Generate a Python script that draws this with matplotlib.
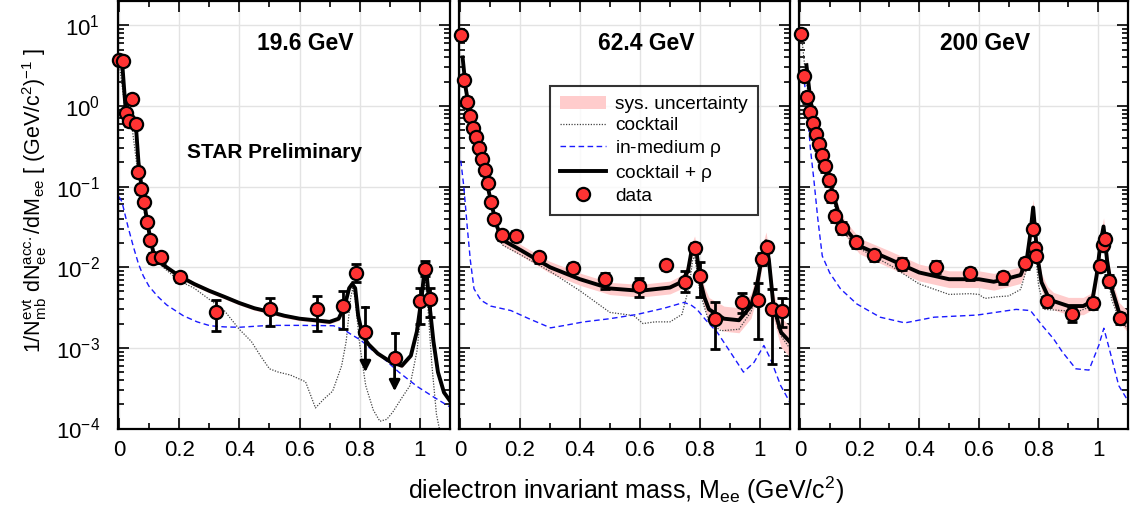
import numpy as np
import matplotlib
matplotlib.use("Agg")
import matplotlib.pyplot as plt
from matplotlib.ticker import MultipleLocator, LogLocator, FixedLocator, NullFormatter
from matplotlib.lines import Line2D
from matplotlib.patches import Patch

plt.rcParams['font.family'] = ['Liberation Sans', 'DejaVu Sans']
plt.rcParams['mathtext.default'] = 'regular'
plt.rcParams['axes.unicode_minus'] = False

titles = ['19.6 GeV', '62.4 GeV', '200 GeV']

# ---- 19.6 GeV ----
d1_x = [0.0, 0.012, 0.022, 0.033, 0.044, 0.056, 0.063, 0.073, 0.082, 0.094, 0.103, 0.114, 0.141,
        0.203, 0.324, 0.501, 0.659, 0.746, 0.788, 1.0, 1.016, 1.032]
d1_y = [3.7, 3.6, 0.81, 0.65, 1.22, 0.6, 0.152, 0.092, 0.065, 0.036, 0.022, 0.013, 0.0132,
        0.0075, 0.00275, 0.003, 0.003, 0.0033, 0.0084, 0.0038, 0.0096, 0.004]
d1_lo = [3.3, 3.2, 0.72, 0.57, 1.08, 0.53, 0.135, 0.082, 0.058, 0.032, 0.0195, 0.0112, 0.0114,
         0.0066, 0.0016, 0.00185, 0.0016, 0.0017, 0.0065, 0.002, 0.0078, 0.0024]
d1_hi = [4.1, 4.0, 0.9, 0.73, 1.36, 0.67, 0.17, 0.103, 0.073, 0.04, 0.0245, 0.0148, 0.015,
         0.0085, 0.0039, 0.0041, 0.0044, 0.005, 0.011, 0.0056, 0.0119, 0.0056]
ul1_x = [0.819, 0.916]
ul1_y = [0.00158, 0.00075]
ul1_top = [0.0032, 0.00154]
ul1_tip = [0.0005, 0.00029]

tot1_x = [0.0, 0.012, 0.022, 0.035, 0.045, 0.056, 0.065, 0.075, 0.085, 0.095, 0.105, 0.115, 0.13,
          0.15, 0.2, 0.25, 0.3, 0.35, 0.4, 0.45, 0.5, 0.55, 0.6, 0.65, 0.7, 0.73, 0.75, 0.765,
          0.775, 0.785, 0.795, 0.81, 0.83, 0.86, 0.9, 0.94, 0.97, 0.99, 1.005, 1.015, 1.02, 1.03,
          1.045, 1.06, 1.08, 1.1]
tot1_y = [3.7, 3.0, 0.95, 0.8, 0.75, 0.6, 0.2, 0.1, 0.06, 0.035, 0.022, 0.015, 0.012, 0.0105,
          0.0078, 0.0062, 0.0051, 0.0043, 0.0036, 0.0031, 0.0028, 0.0025, 0.0023, 0.0022, 0.0021,
          0.0023, 0.0033, 0.0055, 0.0062, 0.0055, 0.0025, 0.0014, 0.0011, 0.00085, 0.00068,
          0.0006, 0.0008, 0.0016, 0.004, 0.009, 0.0105, 0.004, 0.0012, 0.0005, 0.00028, 0.00022]
sys1 = [0.06] * 46

cock1_x = [0.0, 0.02, 0.04, 0.06, 0.08, 0.1, 0.12, 0.14, 0.2, 0.25, 0.3, 0.35, 0.4, 0.44, 0.47,
           0.5, 0.53, 0.57, 0.62, 0.653, 0.68, 0.71, 0.74, 0.755, 0.77, 0.777, 0.785, 0.8, 0.82,
           0.845, 0.867, 0.89, 0.91, 0.94, 0.967, 0.99, 1.005, 1.017, 1.027, 1.04, 1.055, 1.067]
cock1_y = [3.6, 0.95, 0.7, 0.18, 0.06, 0.022, 0.013, 0.0105, 0.0068, 0.0055, 0.004, 0.0029,
           0.0017, 0.0012, 0.0008, 0.00055, 0.0005, 0.00046, 0.00038, 0.00018, 0.00023, 0.00029,
           0.0006, 0.0012, 0.0042, 0.0055, 0.004, 0.0011, 0.00034, 0.00017, 0.000123, 0.00013,
           0.00016, 0.00024, 0.00034, 0.0009, 0.003, 0.0075, 0.003, 0.0006, 0.00015, 0.00009]

rho1_x = [0.0, 0.01, 0.03, 0.048, 0.065, 0.081, 0.1, 0.13, 0.159, 0.214, 0.26, 0.303, 0.35, 0.4,
          0.5, 0.6, 0.713, 0.746, 0.77, 0.803, 0.84, 0.881, 0.93, 0.992, 1.05, 1.1]
rho1_y = [0.075, 0.065, 0.032, 0.018, 0.011, 0.0078, 0.0058, 0.0043, 0.0034, 0.0025, 0.0021,
          0.00188, 0.00182, 0.0018, 0.0019, 0.0019, 0.00188, 0.0017, 0.00148, 0.00125, 0.00095,
          0.00073, 0.0005, 0.00033, 0.00024, 0.000185]

# ---- 62.4 GeV ----
d2_x = [0.005, 0.013, 0.025, 0.033, 0.042, 0.052, 0.062, 0.073, 0.082, 0.095, 0.103, 0.113, 0.141,
        0.188, 0.263, 0.376, 0.483, 0.597, 0.687, 0.749, 0.783, 0.799, 0.85, 0.941, 0.995, 1.008,
        1.025, 1.039, 1.075]
d2_y = [7.5, 2.1, 1.13, 0.75, 0.53, 0.41, 0.305, 0.22, 0.16, 0.111, 0.065, 0.04, 0.0249, 0.0244,
        0.0132, 0.0099, 0.0072, 0.0058, 0.0106, 0.0066, 0.0174, 0.0078, 0.0023, 0.00366, 0.0039,
        0.0128, 0.0177, 0.003, 0.00288]
d2_lo = [6.6, 1.85, 1.0, 0.66, 0.47, 0.36, 0.27, 0.195, 0.141, 0.098, 0.057, 0.035, 0.0215, 0.021,
         0.0113, 0.0085, 0.0054, 0.0043, 0.0093, 0.0049, 0.015, 0.0043, 0.00096, 0.0027, 0.00128,
         0.0108, 0.0155, 0.00063, 0.00181]
d2_hi = [8.5, 2.4, 1.28, 0.85, 0.6, 0.46, 0.345, 0.25, 0.18, 0.125, 0.074, 0.046, 0.0285, 0.028,
         0.0152, 0.0113, 0.0085, 0.0074, 0.012, 0.009, 0.02, 0.0115, 0.0037, 0.0048, 0.0064,
         0.0152, 0.02, 0.0053, 0.0041]

tot2_x = [0.009, 0.02, 0.04, 0.06, 0.08, 0.1, 0.12, 0.14, 0.2, 0.3, 0.4, 0.5, 0.6, 0.7, 0.74,
          0.76, 0.772, 0.782, 0.79, 0.8, 0.815, 0.83, 0.88, 0.93, 0.97, 0.99, 1.005, 1.02, 1.03,
          1.045, 1.07, 1.1]
tot2_y = [4.0, 1.6, 0.6, 0.32, 0.16, 0.075, 0.035, 0.022, 0.0165, 0.0100, 0.0071, 0.00545,
          0.0051, 0.0056, 0.0066, 0.009, 0.016, 0.020, 0.014, 0.007, 0.0042, 0.003, 0.0023,
          0.0022, 0.0033, 0.006, 0.0125, 0.021, 0.012, 0.0033, 0.00156, 0.00118]
sys2 = [0.12, 0.12, 0.12, 0.13, 0.13, 0.14, 0.15, 0.16, 0.17, 0.18, 0.19, 0.19, 0.2, 0.2, 0.21,
        0.22, 0.22, 0.22, 0.25, 0.3, 0.35, 0.4, 0.43, 0.43, 0.42, 0.4, 0.35, 0.3, 0.35, 0.45,
        0.53, 0.55]

cock2_x = [0.009, 0.02, 0.04, 0.06, 0.08, 0.1, 0.12, 0.14, 0.2, 0.3, 0.4, 0.5, 0.55, 0.58, 0.61,
           0.65, 0.7, 0.74, 0.765, 0.775, 0.782, 0.79, 0.8, 0.83, 0.87, 0.93, 0.97, 0.99, 1.005,
           1.02, 1.03, 1.045, 1.07, 1.1]
cock2_y = [4.0, 1.6, 0.6, 0.32, 0.16, 0.072, 0.032, 0.019, 0.0144, 0.0089, 0.0051, 0.00275,
           0.0026, 0.0025, 0.002, 0.0021, 0.0021, 0.0026, 0.006, 0.012, 0.014, 0.009, 0.0048,
           0.0021, 0.00163, 0.0017, 0.0028, 0.005, 0.011, 0.017, 0.01, 0.0028, 0.0014, 0.00098]

rho2_x = [0.003, 0.013, 0.025, 0.035, 0.047, 0.07, 0.102, 0.17, 0.23, 0.302, 0.35, 0.413, 0.5,
          0.591, 0.68, 0.747, 0.77, 0.79, 0.82, 0.858, 0.9, 0.945, 0.98, 1.013, 1.035, 1.069, 1.1]
rho2_y = [0.21, 0.1, 0.03, 0.012, 0.0054, 0.0039, 0.0033, 0.0029, 0.0023, 0.00177, 0.0019,
          0.0021, 0.0023, 0.0026, 0.0031, 0.00366, 0.0034, 0.003, 0.0022, 0.00155, 0.0009,
          0.0005, 0.00066, 0.00107, 0.00073, 0.00034, 0.00021]

# ---- 200 GeV ----
d3_x = [0.005, 0.013, 0.025, 0.033, 0.043, 0.055, 0.065, 0.073, 0.083, 0.096, 0.105, 0.117, 0.141,
        0.187, 0.247, 0.341, 0.455, 0.57, 0.681, 0.756, 0.783, 0.788, 0.793, 0.828, 0.912, 0.981,
        1.006, 1.015, 1.023, 1.035, 1.072]
d3_y = [7.9, 2.35, 1.28, 0.84, 0.61, 0.45, 0.336, 0.248, 0.178, 0.122, 0.077, 0.043, 0.031,
        0.0207, 0.0142, 0.0111, 0.0101, 0.0084, 0.0075, 0.0112, 0.0295, 0.0175, 0.0138, 0.0038,
        0.0026, 0.0036, 0.0104, 0.0188, 0.0226, 0.0068, 0.00234]
d3_lo = [6.9, 2.05, 1.1, 0.72, 0.52, 0.385, 0.285, 0.21, 0.15, 0.103, 0.065, 0.036, 0.026, 0.0174,
         0.0119, 0.0093, 0.0084, 0.007, 0.0062, 0.0095, 0.0255, 0.015, 0.0118, 0.0032, 0.0021,
         0.003, 0.0089, 0.0162, 0.0196, 0.0057, 0.00195]
d3_hi = [9.0, 2.7, 1.48, 0.97, 0.7, 0.52, 0.39, 0.288, 0.206, 0.141, 0.089, 0.05, 0.036, 0.024,
         0.0165, 0.0129, 0.0118, 0.0098, 0.0088, 0.0129, 0.034, 0.02, 0.016, 0.0044, 0.0031,
         0.0042, 0.012, 0.0218, 0.026, 0.0079, 0.0027]

tot3_x = [0.022, 0.035, 0.05, 0.07, 0.09, 0.11, 0.13, 0.15, 0.2, 0.3, 0.4, 0.5, 0.6, 0.65, 0.7,
          0.74, 0.76, 0.772, 0.782, 0.79, 0.797, 0.81, 0.83, 0.85, 0.9, 0.95, 0.98, 0.995, 1.008,
          1.018, 1.03, 1.045, 1.07, 1.1]
tot3_y = [3.2, 1.2, 0.62, 0.3, 0.16, 0.085, 0.046, 0.031, 0.0183, 0.0126, 0.0086, 0.0071,
          0.0071, 0.0066, 0.0073, 0.008, 0.012, 0.025, 0.055, 0.025, 0.013, 0.0065, 0.0045,
          0.0038, 0.0033, 0.0033, 0.0038, 0.008, 0.02, 0.032, 0.012, 0.0055, 0.00275, 0.0021]
sys3 = [0.2, 0.2, 0.2, 0.2, 0.2, 0.22, 0.23, 0.24, 0.25, 0.27, 0.27, 0.27, 0.27, 0.27, 0.27,
        0.27, 0.27, 0.27, 0.27, 0.27, 0.27, 0.27, 0.28, 0.28, 0.28, 0.28, 0.28, 0.28, 0.28,
        0.28, 0.3, 0.32, 0.33, 0.35]

cock3_x = [0.005, 0.02, 0.04, 0.06, 0.08, 0.1, 0.12, 0.15, 0.2, 0.3, 0.4, 0.5, 0.57, 0.6, 0.62,
           0.66, 0.7, 0.74, 0.765, 0.777, 0.783, 0.79, 0.8, 0.82, 0.88, 0.93, 0.97, 0.995, 1.008,
           1.018, 1.03, 1.045, 1.07, 1.1]
cock3_y = [8.0, 2.2, 0.75, 0.36, 0.19, 0.1, 0.05, 0.026, 0.017, 0.0107, 0.0062, 0.0046, 0.0047,
           0.0046, 0.0041, 0.0043, 0.0044, 0.0053, 0.011, 0.03, 0.04, 0.015, 0.006, 0.003, 0.0029,
           0.0028, 0.0032, 0.007, 0.016, 0.025, 0.009, 0.004, 0.0023, 0.0017]

rho3_x = [0.015, 0.025, 0.035, 0.047, 0.06, 0.075, 0.1, 0.136, 0.191, 0.269, 0.352, 0.45, 0.594,
          0.725, 0.773, 0.813, 0.85, 0.88, 0.925, 0.969, 1.002, 1.019, 1.04, 1.069, 1.1]
rho3_y = [2.0, 0.9, 0.3, 0.12, 0.04, 0.0138, 0.0085, 0.0054, 0.0035, 0.0024, 0.00204, 0.0024,
          0.00255, 0.003, 0.0029, 0.00188, 0.0013, 0.00089, 0.00055, 0.00053, 0.00107, 0.00175,
          0.00089, 0.00034, 0.00022]

panels = [
    (d1_x, d1_y, d1_lo, d1_hi, tot1_x, tot1_y, sys1, cock1_x, cock1_y, rho1_x, rho1_y),
    (d2_x, d2_y, d2_lo, d2_hi, tot2_x, tot2_y, sys2, cock2_x, cock2_y, rho2_x, rho2_y),
    (d3_x, d3_y, d3_lo, d3_hi, tot3_x, tot3_y, sys3, cock3_x, cock3_y, rho3_x, rho3_y),
]

W, H = 1130, 511
fig = plt.figure(figsize=(W / 100, H / 100), dpi=100)
boxes = [(118, 332), (459, 331), (799, 329)]
top_px, bot_px = 1, 428.5

pink = '#ffcccc'
red = '#ff3333'

axes = []
for i, ((left, width), p) in enumerate(zip(boxes, panels)):
    dx, dy, dlo, dhi, tx, ty, sy, cx, cy, rx, ry = p
    ax = fig.add_axes([left / W, 1 - bot_px / H, width / W, (bot_px - top_px) / H])
    axes.append(ax)
    ax.set_yscale('log')
    ax.set_xlim(-0.003, 1.1)
    ax.set_ylim(1e-4, 20)

    tx = np.array(tx); ty = np.array(ty); sy = np.array(sy)
    ax.fill_between(tx, ty / (1 + sy), ty * (1 + sy), color=pink, lw=0, zorder=1)
    ax.plot(cx, cy, color='#444444', ls=(0, (1, 1.2)), lw=0.9, zorder=2)
    ax.plot(rx, ry, color='#1a1aff', ls=(0, (4, 2.5)), lw=1.0, zorder=2)
    ax.plot(tx, ty, color='k', lw=2.8, zorder=3)

    dx = np.array(dx); dy = np.array(dy)
    yerr = [dy - np.array(dlo), np.array(dhi) - dy]
    ax.errorbar(dx, dy, yerr=yerr, fmt='none', ecolor='k', elinewidth=2, capsize=3.5,
                capthick=2, zorder=4, clip_on=False)
    ax.plot(dx, dy, 'o', ms=9.5, mfc=red, mec='k', mew=1.6, zorder=5, clip_on=False)

    if i == 0:
        for ux, uy, utop, utip in zip(ul1_x, ul1_y, ul1_top, ul1_tip):
            ax.plot([ux, ux], [uy, utop], color='k', lw=2, zorder=4)
            ax.plot([ux - 0.01, ux + 0.01], [utop, utop], color='k', lw=2, zorder=4)
            ax.annotate('', xy=(ux, utip), xytext=(ux, uy),
                        arrowprops=dict(arrowstyle='-|>', color='k', lw=2,
                                        mutation_scale=16, shrinkA=0, shrinkB=0), zorder=4)
            ax.plot(ux, uy, 'o', ms=9.5, mfc=red, mec='k', mew=1.6, zorder=5)
        ax.text(0.47, 0.645, 'STAR Preliminary', transform=ax.transAxes, ha='center',
                va='center', fontsize=15, fontweight='bold')

    ax.text(0.565, 0.9, titles[i], transform=ax.transAxes, ha='center', va='center',
            fontsize=16.5, fontweight='bold')

    ax.xaxis.set_major_locator(FixedLocator([0, 0.2, 0.4, 0.6, 0.8, 1.0]))
    ax.xaxis.set_minor_locator(MultipleLocator(0.1))
    ax.set_xticklabels(['0', '0.2', '0.4', '0.6', '0.8', '1'])
    ax.yaxis.set_major_locator(LogLocator(base=10, numticks=10))
    ax.yaxis.set_minor_locator(LogLocator(base=10, subs=np.arange(2, 10), numticks=20))
    ax.yaxis.set_minor_formatter(NullFormatter())
    ax.tick_params(which='both', direction='in', top=True, right=True, width=1.2)
    ax.tick_params(which='major', length=8, labelsize=16)
    ax.tick_params(which='minor', length=4)
    ax.tick_params(axis='x', pad=8)
    ax.tick_params(axis='y', pad=13)
    if i > 0:
        ax.tick_params(axis='y', labelleft=False)
    ax.grid(True, which='major', color='#e3e3e3', lw=1.0, zorder=0)
    ax.set_axisbelow(True)
    for s in ax.spines.values():
        s.set_linewidth(1.6)

handles = [
    Patch(facecolor=pink, edgecolor='none'),
    Line2D([], [], color='#444444', ls=(0, (1, 1.2)), lw=0.9),
    Line2D([], [], color='#1a1aff', ls=(0, (4, 2.5)), lw=1.0),
    Line2D([], [], color='k', lw=2.8),
    Line2D([], [], ls='none', marker='o', ms=9.5, mfc=red, mec='k', mew=1.6),
]
labels = ['sys. uncertainty', 'cocktail', r'in-medium $\rho$', r'cocktail + $\rho$', 'data']
leg = fig.legend(handles, labels, loc='upper left', bbox_to_anchor=(550 / W, 1 - 86 / H),
                 bbox_transform=fig.transFigure, fontsize=13.8, frameon=True, fancybox=False,
                 edgecolor='k', borderpad=0.5, handlelength=2.4, handletextpad=0.5,
                 labelspacing=0.2, borderaxespad=0)
leg.get_frame().set_linewidth(1.5)
leg.set_zorder(10)

fig.text(626 / W, 1 - 490 / H, r'dielectron invariant mass, M$_{ee}$ (GeV/c$^{2}$)',
         ha='center', va='center', fontsize=18)
fig.text(35 / W, 1 - 201 / H,
         r'1/N$_{mb}^{evt}$ dN$_{ee}^{acc.}$/dM$_{ee}$ [ (GeV/c$^{2}$)$^{-1}$ ]',
         ha='center', va='center', rotation=90, fontsize=15.5)

fig.savefig('out.png', dpi=100)
